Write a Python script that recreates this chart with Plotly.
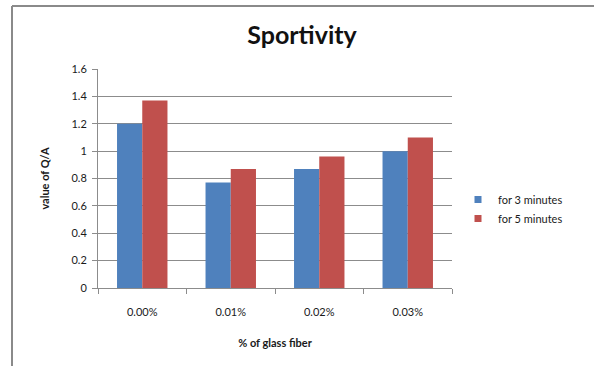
import plotly.graph_objects as go

# Glass-fibre content and measured Q/A values
fiber_pct = ["0.00%", "0.01%", "0.02%", "0.03%"]
qa_3min = [1.20, 0.77, 0.87, 1.00]
qa_5min = [1.37, 0.87, 0.96, 1.10]
series_names = ["for 3 minutes", "for 5 minutes"]

BLUE = "#4F81BD"
RED = "#C0504D"
GRID = "#8C8C8C"
FONT = "Lato, Open Sans, sans-serif"

fig = go.Figure()
for vals, name, col in [(qa_3min, series_names[0], BLUE),
                        (qa_5min, series_names[1], RED)]:
    fig.add_bar(x=fiber_pct, y=vals, name=name, marker_color=col,
                marker_line_width=0, showlegend=False)
    # compact square legend key
    fig.add_scatter(x=[None], y=[None], mode="markers", name=name,
                    marker=dict(symbol="square", size=7, color=col))

# plot area in pixels: x 98..452, y 69..288
L, R, T, B = 98, 594 - 452, 69, 366 - 288
pw, ph = 594 - L - R, 366 - T - B

def px(x):
    return (x - L) / pw

def py(y):
    return (366 - B - y) / ph

fig.update_layout(
    width=594, height=366,
    margin=dict(l=L, r=R, t=T, b=B),
    paper_bgcolor="white", plot_bgcolor="white",
    barmode="group", bargap=0.43, bargroupgap=0,
    font=dict(family=FONT, size=11, color="#1a1a1a"),
    title=dict(text="<b>Sportivity</b>", xref="container", x=302 / 594,
               xanchor="center", y=1 - 35 / 366, yanchor="middle",
               font=dict(family=FONT, size=25, color="#111111")),
    legend=dict(x=px(458), xanchor="left", y=py(209), yanchor="middle",
                font=dict(family=FONT, size=11, color="#1a1a1a"),
                itemwidth=30, tracegroupgap=4, bgcolor="rgba(0,0,0,0)"),
    xaxis=dict(type="category", tickson="boundaries", ticks="outside",
               ticklen=5, tickcolor=GRID, showline=True, linecolor=GRID,
               linewidth=1, showgrid=False, ticklabelstandoff=14,
               tickfont=dict(family=FONT, size=11),
               title=dict(text="<b>% of glass fiber</b>", standoff=22,
                          font=dict(family=FONT, size=11))),
    yaxis=dict(range=[0, 1.6], dtick=0.2, ticks="outside", ticklen=5,
               tickcolor=GRID, showline=True, linecolor=GRID, linewidth=1,
               showgrid=True, gridcolor=GRID, gridwidth=1, zeroline=False,
               ticklabelstandoff=3,
               tickfont=dict(family=FONT, size=11),
               title=dict(text="<b>value of Q/A</b>", standoff=19,
                          font=dict(family=FONT, size=11))),
)

# chart frame (top and left edges)
fig.add_shape(type="line", xref="paper", yref="paper",
              x0=px(12), y0=py(6), x1=px(600), y1=py(6),
              line=dict(color="#8a8a8a", width=2))
fig.add_shape(type="line", xref="paper", yref="paper",
              x0=px(12), y0=py(6), x1=px(12), y1=py(370),
              line=dict(color="#8a8a8a", width=2))

fig.write_html("out.html")
